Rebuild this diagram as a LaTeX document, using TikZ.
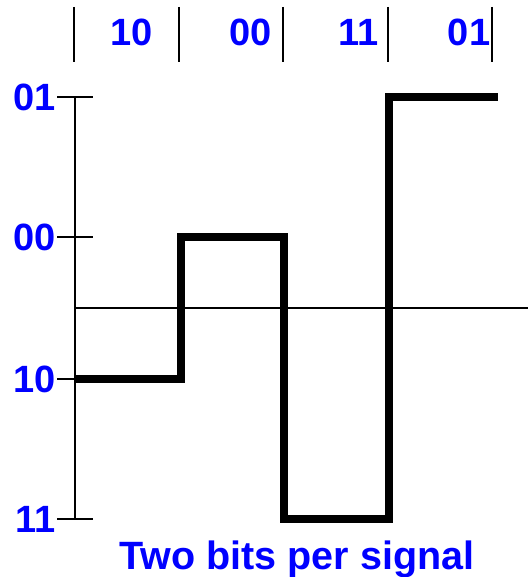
\documentclass[tikz,border=0pt]{standalone}
\usepackage{fontspec}
\setmainfont{Liberation Sans}
\usepackage{tikz}
\usetikzlibrary{positioning}
\definecolor{bitblue}{RGB}{0,0,255}

\begin{document}
\begin{tikzpicture}[
  x=1pt, y=-1pt,
  bits/.style={font=\fontsize{38}{40}\selectfont\bfseries, text=bitblue, inner sep=0pt},
  lvl/.style={bits, anchor=east},
  thin/.style={draw=black, line width=1.5pt},
  sig/.style={draw=black, line width=8pt, miter limit=10},
]
  \useasboundingbox (0,0) rectangle (528,577);

  % separators between the bit pairs
  \foreach \sx in {74,179,283,388,492}
    \draw[thin] (\sx,7) -- (\sx,62);
  \node[bits] (p1) at (132,32) {10};
  \node[bits] (p2) at (251,32) {00};
  \node[bits] (p3) at (359,32) {11};
  \node[bits] (p4) at (469,32) {01};

  % axis, ticks and levels
  \draw[thin] (75,97) -- (75,520);
  \draw[thin] (75,308) -- (528,308);
  \foreach \ly/\lt in {97/01,237/00,379/10,519/11} {
    \draw[thin] (57,\ly) -- (93,\ly);
    \node[lvl] (l\lt) at (56,\ly) {\lt};
  }

  % signal
  \draw[sig] (75,379) -- (181,379) -- (181,237) -- (284,237) -- (284,519)
    -- (389,519) -- (389,97) -- (498,97);

  \node[bits, font=\fontsize{39.5}{42}\selectfont\bfseries, anchor=base] (cap) at (297,569) {Two bits per signal};
\end{tikzpicture}
\end{document}
